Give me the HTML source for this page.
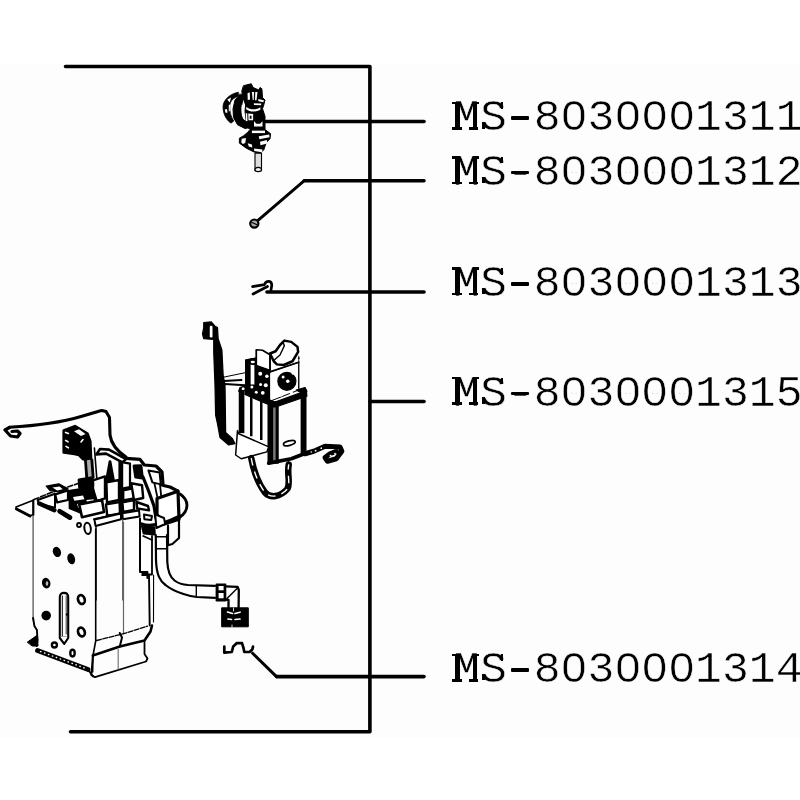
<!DOCTYPE html>
<html>
<head>
<meta charset="utf-8">
<title>Parts diagram</title>
<style>
html,body{margin:0;padding:0;background:#ffffff;}
body{width:800px;height:800px;overflow:hidden;position:relative;font-family:"Liberation Mono",monospace;}
#paper{position:absolute;left:0;top:63px;width:800px;height:675px;background:#fdfdfd;}
svg{position:absolute;left:0;top:0;filter:blur(0.45px);}
.lbl{position:absolute;left:453.1px;font-family:"Liberation Mono",monospace;font-size:44.8px;line-height:45px;height:45px;white-space:nowrap;color:#000;transform-origin:0 0;transform:scale(1,0.985);letter-spacing:0px;-webkit-text-stroke:0.5px #fdfdfd;filter:grayscale(1);}
.z{position:absolute;width:8px;height:9px;border-radius:50%;background:#fdfdfd;z-index:5;display:block;}
.m{position:absolute;background:#000;z-index:5;display:block;}
.h{position:absolute;left:511.2px;width:18.2px;height:3.7px;background:#000;z-index:5;display:block;border-radius:1px;}
</style>
</head>
<body>
<div id="paper"></div>
<svg width="800" height="800" viewBox="0 0 800 800">
<g id="frame" fill="none" stroke="#000" stroke-width="3.6" stroke-linecap="round" stroke-linejoin="round">
<path d="M65.5 66.5 H369.9 V731.7 H70.5"/>
<path d="M266 121.5 H424"/>
<path d="M304.3 180.7 H424"/>
<path d="M258 220.3 L304.3 180.7" stroke-width="2.9"/>
<path d="M267 292 H424"/>
<path d="M370 401.5 H424"/>
<path d="M276.5 676.6 H424"/>
<path d="M252.6 653.2 L276.5 676.6" stroke-width="3"/>
</g>
<g id="parts" fill="none" stroke="#000" stroke-width="2" stroke-linecap="round" stroke-linejoin="round">
<!-- part 1 : valve -->
<g id="p1" transform="translate(210,80) scale(0.125)" stroke-width="16">
<path d="M225 98 C160 110 104 160 104 215 C104 270 130 320 168 345 L190 328 C165 290 155 250 158 205 C162 165 190 140 232 128 Z" fill="#000" stroke-width="6"/>
<path d="M138 156 L168 140 L158 180 Z M118 236 L136 232 L140 262 L124 262 Z M150 200 L160 196 L158 250 L150 250 Z" fill="#fdfdfd" stroke="none"/>
<path d="M240 115 L200 160 L184 230 L188 300 L220 358 L280 388 L320 380 L320 350 L270 320 L252 280 L250 220 L262 160 L285 125 Z" fill="#000" stroke-width="8"/>
<path d="M270 45 L330 30 L345 60 L390 80 L400 60 L415 70 L420 140 L440 160 L430 200 L420 230 L440 290 L440 400 L330 400 L300 380 L290 330 L280 250 L285 200 L260 130 L255 90 Z" fill="#000" stroke-width="8"/>
<path d="M320 400 L445 400 L485 430 L480 470 L450 500 L430 560 L400 585 L350 575 L290 545 L235 505 L235 465 L270 445 L300 420 Z" fill="#000" stroke-width="8"/>
<path d="M258 205 C254 240 258 280 270 308" stroke="#fdfdfd" stroke-width="10"/>
<g stroke="none" fill="#fdfdfd">
<path d="M335 95 L352 95 L350 160 L342 160 Z M362 95 L380 95 L372 162 L360 162 Z"/>
<path d="M300 105 L318 98 L320 155 L302 160 Z"/>
<path d="M385 152 L430 162 L428 178 L388 170 Z"/>
<path d="M350 186 L410 188 L408 202 L352 200 Z"/>
<path d="M290 214 C320 240 370 242 402 218 L404 236 C370 258 320 258 290 234 Z"/>
<path d="M286 266 L298 266 L300 330 L288 328 Z"/>
<path d="M306 268 L345 272 L345 322 L308 322 Z"/>
<path d="M352 330 L372 350 L400 350 L420 330 L420 372 L352 372 Z"/>
<path d="M335 405 L440 405 L440 425 L335 425 Z"/>
<path d="M390 450 L474 436 L476 458 L395 474 Z"/>
<path d="M400 494 L455 480 L456 508 L404 522 Z"/>
<path d="M254 470 L288 464 L282 504 L262 512 L250 498 Z"/>
<path d="M302 505 L335 515 L338 540 L310 532 Z"/>
<path d="M352 547 L420 556 L416 578 L354 568 Z"/>
</g>
<rect x="318" y="286" width="14" height="24" fill="#000" stroke="none"/>
<rect x="360" y="585" width="52" height="140" fill="#ddd" stroke-width="9"/>
<ellipse cx="386" cy="716" rx="26" ry="17" fill="#eee" stroke-width="9"/>
</g>
<!-- part 4 : pump -->
<g id="p4" transform="translate(195,315) scale(0.125)" stroke-width="10">
<!-- connector + wire -->
<path d="M70 60 L130 55 L160 90 L180 100 L185 190 L215 280 L225 480 L240 560 L245 940 L300 990 L320 1030 L270 1040 L200 980 L178 860 L165 800 L160 560 L150 300 L150 195 L70 190 L60 150 L70 100 Z" fill="#000"/>
<rect x="118" y="85" width="22" height="95" rx="10" fill="#fff" stroke="none"/>
<!-- horizontal wires -->
<path d="M225 498 L400 462" stroke-width="8"/>
<path d="M230 528 L370 520 M240 552 L400 562" stroke-width="18"/>
<!-- post -->
<path d="M408 360 L490 345 L490 580 L408 570 Z" fill="#fff" stroke-width="12"/>
<path d="M405 360 L440 360 L440 570 L405 570 Z" fill="#000"/>
<path d="M440 352 L490 345 L490 400 L440 392 Z" fill="#000"/>
<ellipse cx="462" cy="376" rx="17" ry="10" fill="#fff" stroke="none"/>
<!-- upper block face -->
<path d="M490 278 L540 282 L600 318 L600 445 L490 405 Z" fill="#fff" stroke-width="14"/>
<!-- mottled region -->
<path d="M480 405 L600 445 L600 690 L480 650 L400 600 L350 610 L360 580 L420 560 L480 560 Z" fill="#000"/>
<g fill="#fff" stroke="none">
<circle cx="575" cy="490" r="14"/><circle cx="522" cy="470" r="16"/><circle cx="525" cy="555" r="12"/><circle cx="566" cy="562" r="16"/><circle cx="542" cy="622" r="15"/><circle cx="490" cy="618" r="12"/><circle cx="455" cy="575" r="12"/><circle cx="385" cy="590" r="12"/>
</g>
<!-- face plate -->
<path d="M600 455 L830 378 L830 600 L600 690 Z" fill="#fff" stroke-width="8"/>
<path d="M600 455 L830 378" stroke-width="14"/>
<path d="M830 330 L830 585" stroke-width="7"/>
<circle cx="830" cy="345" r="7" fill="#000" stroke="none"/>
<circle cx="735" cy="530" r="72" fill="#000"/>
<g fill="#fff" stroke="none"><circle cx="705" cy="495" r="12"/><circle cx="742" cy="530" r="14"/><circle cx="785" cy="465" r="12"/><circle cx="770" cy="620" r="13"/><circle cx="690" cy="640" r="12"/></g>
<!-- ramp -->
<path d="M600 308 L645 290 L680 240 L715 205 L770 215 L820 255 L825 295 L780 370 L710 400 L655 395 L630 370 Z" fill="#fff" stroke-width="20"/>
<path d="M632 362 L680 320 L715 245 L705 222" stroke-width="11"/>
<path d="M600 318 L600 455" stroke-width="10"/>
<!-- ledge -->
<path d="M400 600 L640 696 L860 616 L890 600 L895 650 L640 738 L400 636 Z" fill="#000"/>
<path d="M810 600 L880 580 L895 610 L880 640 Z" fill="#000"/>
<!-- bars -->
<rect x="350" y="600" width="45" height="345" fill="#000" stroke="none"/>
<rect x="440" y="620" width="20" height="350" fill="#000" stroke="none"/>
<rect x="520" y="650" width="20" height="350" fill="#000" stroke="none"/>
<rect x="580" y="690" width="90" height="500" fill="#000" stroke="none"/>
<rect x="625" y="740" width="20" height="440" fill="#777" stroke="none"/>
<rect x="845" y="600" width="47" height="510" fill="#000" stroke="none"/>
<!-- bottom edge -->
<path d="M590 1185 L770 1150 L880 1108" stroke-width="30"/>
<!-- oval -->
<ellipse cx="755" cy="1025" rx="48" ry="18" transform="rotate(-15 755 1025)" fill="#fff" stroke-width="14"/>
<!-- flag -->
<path d="M340 925 L350 950 L590 1055 L575 1095 L370 1150 L325 1120 Z" fill="#fff" stroke-width="12"/>
<!-- hose -->
<path d="M450 1145 C470 1250 500 1340 560 1420 C600 1465 680 1460 740 1390 C765 1340 735 1280 750 1195" stroke-width="52"/>
<path d="M450 1145 C470 1250 500 1340 560 1420 C600 1465 680 1460 740 1390 C765 1340 735 1280 750 1195" stroke="#fff" stroke-width="11" stroke-dasharray="60 50" stroke-linecap="butt"/>
<!-- right wire -->
<path d="M880 1110 L950 1090 L1040 1050 L1160 1055 L1175 1090 L1130 1150 L1060 1170 L1040 1140 L1080 1110 L1130 1090" stroke-width="40"/>
<g fill="#fff" stroke="none"><circle cx="965" cy="1085" r="7"/><circle cx="1010" cy="1065" r="7"/><circle cx="1085" cy="1125" r="8"/><circle cx="1120" cy="1108" r="7"/><circle cx="930" cy="1095" r="6"/></g>
</g>
<!-- part 5 : brew unit -->
<g id="p5a" stroke-width="2.4">
<!-- top wire + terminal -->
<path d="M9.4 427.2 C31 426 56 424 81 416.5 C91 414 97 411.5 102 410.5 L106 411.5 L109.5 417.5 L110 435 C111 443 117 451 126 457" stroke-width="3.1"/>
<path d="M9.4 427.5 L5 430 L10.5 436 L17.5 437 L20 433.5 L17.5 431 L12 431.5" stroke-width="3.2"/>
<path d="M16 507 L33.3 500.3 L33.3 514.5 L29.5 516 L16.6 509.3 Z" fill="#fdfdfd" stroke-width="1.6"/>
<path d="M16.5 509 L30 516" stroke-width="3"/>
<path d="M33.3 500.3 L33.3 515" stroke-width="2"/>
<!-- main box faces -->
<path d="M33.1 516 L33.1 620" stroke="#555" stroke-width="1.3"/>
<path d="M33.1 618 L34.4 626 L36.9 630 L37.5 640 L36.5 646" stroke-width="1.9"/>
<path d="M27.5 642 L37.5 635 L38 646 L32.5 646 Z" fill="#000" stroke-width="1"/>
<path d="M95.7 529 L95.7 641 L93.1 655 L92.6 672" stroke-width="1.6"/>
<path d="M123.5 522 L123.5 634" stroke="#666" stroke-width="1.2"/>
<path d="M149 575 L149.7 625.5" stroke-width="1.9"/>
<path d="M153.6 575 L153.5 622" stroke-width="1.1"/>
<path d="M152 536 L152 574.5 L143 574.5" stroke-width="1.8"/>
<rect x="141.5" y="571" width="6.5" height="5" fill="#000" stroke="none"/>
<!-- holes -->
<g fill="#000" stroke="none">
<ellipse cx="56.9" cy="551.9" rx="4" ry="5.3" transform="rotate(-20 56.9 551.9)"/>
<ellipse cx="71.2" cy="558.8" rx="3.8" ry="5.6" transform="rotate(-15 71.2 558.8)"/>
<ellipse cx="46.2" cy="583.1" rx="4.2" ry="5.4" transform="rotate(-15 46.2 583.1)"/>
<circle cx="46.2" cy="615.6" r="4.8"/>
</g>
<g fill="#fff" stroke-width="2.7">
<ellipse cx="47" cy="583.5" rx="1.3" ry="2.2" fill="#bbb" stroke="none"/>
<ellipse cx="81.4" cy="599.6" rx="3.3" ry="4.5" transform="rotate(-18 81.4 599.6)"/>
<ellipse cx="81.4" cy="632" rx="3.3" ry="4.5" transform="rotate(-18 81.4 632)"/>
<circle cx="54.4" cy="645" r="2.5" stroke-width="2.4"/>
<ellipse cx="72.5" cy="653.1" rx="2.2" ry="3.4" stroke-width="2.4"/>
</g>
<!-- slot -->
<path d="M59.8 638 L59.8 597 C59.8 591.5 68 591.5 68.2 597 L68.2 638 L64.2 643.8 Z" fill="#fff" stroke-width="2.1"/>
<path d="M62.3 596 L62.3 636" stroke-width="1"/>
<path d="M66.2 596 L66.2 634" stroke-width="0.8"/>
<circle cx="67" cy="614.5" r="1.2" fill="#000" stroke="none"/>
<path d="M61 636.5 L67 636.5" stroke="#999" stroke-width="0.8"/>
<!-- serrated bottom edge -->
<path d="M37.5 650.5 L88 669.5" stroke-width="4.8"/>
<path d="M40 651.3 L86 668.6" stroke="#fff" stroke-width="1.3" stroke-dasharray="1.6 2.6" stroke-linecap="butt"/>
<path d="M88 669.5 L93 676.5" stroke-width="2"/>
<!-- bottom band right -->
<path d="M96.5 640.5 L123.5 633.7 L147.5 626.2" stroke-width="1.3" stroke-dasharray="5 1.5"/>
<path d="M92.8 655.5 L119.8 646.5 L144.5 640.5 L150.5 631.5 L152 625.5" stroke-width="2.6"/>
<path d="M119.8 633 L122 637.5 L119.8 646.5" stroke-width="2"/>
<path d="M92.8 655.5 L91.3 675 L95 677.2 L146 661.5 L147.5 658.5 L144.5 654 L144.5 642" stroke-width="1.8"/>
<path d="M118.2 649.5 L118.2 669" stroke="#777" stroke-width="1.2"/>
<!-- hose to right -->
<path d="M155.8 535 L156 560 C156.5 575 160 581 165.5 585 C171 589.5 177 592 183.5 594 C188 595.5 192 596.5 197 597 L215 597.8" stroke-width="2.2"/>
<path d="M167 535 L167.3 562 C167.8 572 170 577 174.5 580.5 C178.5 583.5 183 584.6 188 585 L215 585.8" stroke-width="2.2"/>
<path d="M196.3 585.5 L196.3 597" stroke-width="1.4"/>
<path d="M156 548.8 L167.5 548.8 M155.5 536.8 L167.5 536.8" stroke-width="1.4"/>
<rect x="216.3" y="584.3" width="9.3" height="16.5" fill="#000" stroke-width="1.4"/>
<rect x="218.6" y="586" width="5" height="4.3" fill="#fff" stroke="none"/><rect x="218.6" y="593" width="5" height="5.3" fill="#fff" stroke="none"/>
<path d="M225.5 586.3 L237.5 586.8 L238.8 590 L238.6 607.5 M225.5 599.5 L228.5 600 L228.5 607.5" stroke-width="2.3"/><path d="M227 598.5 L237 588.5" stroke-width="1.5"/>
<rect x="222" y="607.8" width="26.3" height="19" fill="#000" stroke-width="1"/>
<path d="M227.5 612 L232.5 613.5 M235 613.5 L240 612.2 M228 619 L231.5 619.5 M235 619.5 L240 619" stroke="#fff" stroke-width="1.7"/>
<path d="M232 627 L232 625 M233.5 608 L233.5 611" stroke="#fff" stroke-width="0.8"/>
</g>
<g id="p5b" transform="translate(40,440) scale(0.2)" stroke-width="14">
<!-- connector block -->
<path d="M119 -47 L175 -69 L237 -31 L251 6 L255 100 L215 95 L195 75 L172 69 L119 62 Z" fill="#000"/>
<path d="M170 -44 L195 -54 L228 -30 L205 -20 Z" fill="#fff" stroke="none"/>
<path d="M128 -38 L142 -33 M128 2 L140 9 M130 32 L142 39 M205 10 L215 -2" stroke="#fff" stroke-width="8"/>
<!-- wires below -->
<path d="M243 95 L250 192" stroke-width="46" stroke-linecap="butt"/><path d="M243 100 L250 188" stroke="#aaa" stroke-width="18" stroke-linecap="butt"/>
<path d="M272 40 L284 192" stroke-width="8"/>
<!-- tab -->
<path d="M282 72 L300 45 L345 48 L430 95 L412 112 L330 68 Z" fill="#fff" stroke-width="13"/>
<!-- top wire joins -->
<path d="M430 92 L500 97 L522 125 L580 130 L610 160 L615 222" stroke-width="16"/>
<path d="M470 130 L505 128 L512 190 L478 185 Z" fill="#000"/>
<path d="M542 152 L598 162 L604 222 L562 212 Z" fill="#fff" stroke-width="10"/>
<!-- central post -->
<path d="M404 105 L404 368" stroke-width="24" stroke-linecap="butt"/>
<path d="M416 112 L450 118 L450 236 L416 242" stroke-width="11"/>
<path d="M350 108 L368 205 L332 205 Z" fill="#000"/>
<!-- boxes row 2 -->
<path d="M265 202 L325 182 L325 292 L265 312 Z" fill="#fff" stroke-width="12"/>
<path d="M332 212 L395 200 L395 300 L335 312 Z" fill="#fff" stroke-width="12"/>
<path d="M416 252 L470 240 L470 292 L416 302 Z" fill="#fff" stroke-width="12"/>
<path d="M456 216 L510 226 L516 290 L470 300 Z" fill="#fff" stroke-width="12"/>
<!-- dashed top-left edge -->
<path d="M-30 298 L50 265 L150 231 L200 214" stroke-width="8" stroke-dasharray="26 10"/>
<path d="M31 231 L94 219 L140 244 L100 260 L50 253 Z" fill="#000" stroke-width="6"/>
<path d="M62 238 L98 232 L114 246 L86 252 Z" fill="#fff" stroke="none"/>
<path d="M76 272 L140 252 L140 300 L86 312 Z" fill="#fff" stroke-width="11"/>
<!-- mottled -->
<path d="M150 256 L262 238 L290 330 L205 362 L150 340 Z" fill="#000"/>
<path d="M195 200 L262 188 L264 228 L198 238 Z" fill="#000"/>
<g fill="#fff" stroke="none"><path d="M165 285 L215 278 L222 296 L172 304 Z"/><path d="M232 300 L268 296 L272 315 L238 322 Z"/><path d="M185 320 L215 316 L218 335 L192 340 Z"/></g>
<!-- left triangle -->
<path d="M-12 300 L75 269 L75 338 L-6 319 Z" fill="#fff" stroke-width="10"/>
<path d="M-4 318 L72 351" stroke-width="22"/>
<path d="M98 356 L150 388" stroke-width="24"/>
<!-- row 3 boxes -->
<path d="M196 322 L310 300 L320 360 L210 386 Z" fill="#fff" stroke-width="13"/>
<path d="M330 322 L398 310 L400 370 L336 378 Z" fill="#fff" stroke-width="12"/>
<path d="M412 312 L470 300 L470 350 L416 360 Z" fill="#fff" stroke-width="12"/>
<path d="M482 310 L540 330 L545 352 L486 342 Z" fill="#fff" stroke-width="12"/>
<!-- diagonal tube line -->
<path d="M515 185 L545 260 L570 330 L580 392" stroke-width="16"/>
<path d="M572 216 L586 282 M600 222 L606 282" stroke-width="9"/>
<!-- cup -->
<path d="M585 292 L690 256 L695 396 L622 420 L585 372 Z" fill="#fff" stroke-width="16"/>
<path d="M612 226 L650 235 L690 256" stroke-width="16"/>
<path d="M700 270 C745 300 748 350 700 386" stroke-width="14"/>
<path d="M695 396 L695 490 L662 520 L640 526 M640 428 L640 522" stroke-width="11"/>
<!-- ring arc -->
<path d="M508 420 C560 440 640 410 700 380" stroke-width="16"/>
<path d="M520 372 L560 380 L556 400 L522 396 Z M576 372 L620 390 L626 420 L582 440 Z" fill="#fff" stroke-width="10"/>
<path d="M512 432 L570 440 L572 470 L520 466 Z" fill="#000"/>
<!-- box 2 rim -->
<path d="M270 396 L405 364 L495 350" stroke-width="9" stroke-dasharray="22 8"/>
<path d="M272 398 L405 368 L405 396 L278 430 Z" fill="#fff" stroke-width="10"/>
<path d="M412 366 L495 352 L498 382 L414 396 Z" fill="#fff" stroke-width="10"/>
<!-- small circle + ellipse -->
<circle cx="195" cy="425" r="10" fill="#fff" stroke-width="9"/>
<ellipse cx="238" cy="442" rx="16" ry="28" fill="#fff" stroke-width="10" transform="rotate(-8 238 442)"/>
<!-- verticals -->
<path d="M280 432 L280 800" stroke-width="7"/>
<path d="M413 398 L413 800" stroke="#666" stroke-width="6"/>
<path d="M500 392 L500 660 L537 660 L537 690" stroke-width="10"/>
<path d="M516 480 L560 500" stroke-width="9"/>
</g>
<!-- part 2 : screw -->
<circle cx="254.3" cy="223.6" r="4.1" fill="#aaa" stroke-width="2.2"/>
<path d="M252 222.5 L256.5 224.5" stroke-width="1.2"/>
<!-- part 3 : clip -->
<g id="p3" stroke-width="2.7">
<path d="M252.5 286.6 L264.5 284.6 C266 280.5 271.5 280 271.8 285 L271 290"/>
<path d="M253 294 L267.5 286.5"/>
</g>
<!-- part 5 clip -->
<path d="M224.3 646.5 L224.3 652.7 L231.8 652 L233.2 646.5 L236.6 643.2 L242 643.2 L243.5 648 L244.3 652 L249.6 652 L252.4 649.3 L253 646.6" stroke-width="2.7"/>
</g>
</svg>
<div class="lbl" id="t1" style="top:97.3px">MS-8030001311</div>
<div class="lbl" id="t2" style="top:151.8px">MS-8030001312</div>
<div class="lbl" id="t3" style="top:263px">MS-8030001313</div>
<div class="lbl" id="t4" style="top:372.6px">MS-8030001315</div>
<div class="lbl" id="t5" style="top:649.2px">MS-8030001314</div>
<i class="z" style="left:570.1px;top:109.7px"></i>
<i class="z" style="left:623.8px;top:109.7px"></i>
<i class="z" style="left:650.7px;top:109.7px"></i>
<i class="z" style="left:677.6px;top:109.7px"></i>
<i class="z" style="left:570.1px;top:164.2px"></i>
<i class="z" style="left:623.8px;top:164.2px"></i>
<i class="z" style="left:650.7px;top:164.2px"></i>
<i class="z" style="left:677.6px;top:164.2px"></i>
<i class="z" style="left:570.1px;top:275.4px"></i>
<i class="z" style="left:623.8px;top:275.4px"></i>
<i class="z" style="left:650.7px;top:275.4px"></i>
<i class="z" style="left:677.6px;top:275.4px"></i>
<i class="z" style="left:570.1px;top:385.0px"></i>
<i class="z" style="left:623.8px;top:385.0px"></i>
<i class="z" style="left:650.7px;top:385.0px"></i>
<i class="z" style="left:677.6px;top:385.0px"></i>
<i class="z" style="left:570.1px;top:661.6px"></i>
<i class="z" style="left:623.8px;top:661.6px"></i>
<i class="z" style="left:650.7px;top:661.6px"></i>
<i class="z" style="left:677.6px;top:661.6px"></i>
<i class="h" style="top:116.2px"></i>
<i class="h" style="top:170.7px"></i>
<i class="h" style="top:281.9px"></i>
<i class="h" style="top:391.5px"></i>
<i class="h" style="top:668.1px"></i>
<i class="m" style="left:455.3px;top:101.6px;width:4.9px;height:28.0px"></i>
<i class="m" style="left:472.5px;top:101.6px;width:4.6px;height:28.0px"></i>
<i class="m" style="left:452.4px;top:101.6px;width:6.0px;height:2.6px"></i>
<i class="m" style="left:472.5px;top:101.6px;width:6.0px;height:2.6px"></i>
<i class="m" style="left:452.4px;top:127.0px;width:9.4px;height:2.7px"></i>
<i class="m" style="left:469.4px;top:127.0px;width:9.0px;height:2.7px"></i>
<i class="m" style="left:455.3px;top:156.1px;width:4.9px;height:28.0px"></i>
<i class="m" style="left:472.5px;top:156.1px;width:4.6px;height:28.0px"></i>
<i class="m" style="left:452.4px;top:156.1px;width:6.0px;height:2.6px"></i>
<i class="m" style="left:472.5px;top:156.1px;width:6.0px;height:2.6px"></i>
<i class="m" style="left:452.4px;top:181.5px;width:9.4px;height:2.7px"></i>
<i class="m" style="left:469.4px;top:181.5px;width:9.0px;height:2.7px"></i>
<i class="m" style="left:455.3px;top:267.3px;width:4.9px;height:28.0px"></i>
<i class="m" style="left:472.5px;top:267.3px;width:4.6px;height:28.0px"></i>
<i class="m" style="left:452.4px;top:267.3px;width:6.0px;height:2.6px"></i>
<i class="m" style="left:472.5px;top:267.3px;width:6.0px;height:2.6px"></i>
<i class="m" style="left:452.4px;top:292.7px;width:9.4px;height:2.7px"></i>
<i class="m" style="left:469.4px;top:292.7px;width:9.0px;height:2.7px"></i>
<i class="m" style="left:455.3px;top:376.9px;width:4.9px;height:28.0px"></i>
<i class="m" style="left:472.5px;top:376.9px;width:4.6px;height:28.0px"></i>
<i class="m" style="left:452.4px;top:376.9px;width:6.0px;height:2.6px"></i>
<i class="m" style="left:472.5px;top:376.9px;width:6.0px;height:2.6px"></i>
<i class="m" style="left:452.4px;top:402.3px;width:9.4px;height:2.7px"></i>
<i class="m" style="left:469.4px;top:402.3px;width:9.0px;height:2.7px"></i>
<i class="m" style="left:455.3px;top:653.5px;width:4.9px;height:28.0px"></i>
<i class="m" style="left:472.5px;top:653.5px;width:4.6px;height:28.0px"></i>
<i class="m" style="left:452.4px;top:653.5px;width:6.0px;height:2.6px"></i>
<i class="m" style="left:472.5px;top:653.5px;width:6.0px;height:2.6px"></i>
<i class="m" style="left:452.4px;top:678.9px;width:9.4px;height:2.7px"></i>
<i class="m" style="left:469.4px;top:678.9px;width:9.0px;height:2.7px"></i>
<i class="m" style="left:500.6px;top:102.4px;width:2.5px;height:6.6px"></i>
<i class="m" style="left:482.2px;top:122.0px;width:2.5px;height:6.6px"></i>
<i class="m" style="left:500.6px;top:156.9px;width:2.5px;height:6.6px"></i>
<i class="m" style="left:482.2px;top:176.5px;width:2.5px;height:6.6px"></i>
<i class="m" style="left:500.6px;top:268.1px;width:2.5px;height:6.6px"></i>
<i class="m" style="left:482.2px;top:287.7px;width:2.5px;height:6.6px"></i>
<i class="m" style="left:500.6px;top:377.7px;width:2.5px;height:6.6px"></i>
<i class="m" style="left:482.2px;top:397.3px;width:2.5px;height:6.6px"></i>
<i class="m" style="left:500.6px;top:654.3px;width:2.5px;height:6.6px"></i>
<i class="m" style="left:482.2px;top:673.9px;width:2.5px;height:6.6px"></i>
</body>
</html>
